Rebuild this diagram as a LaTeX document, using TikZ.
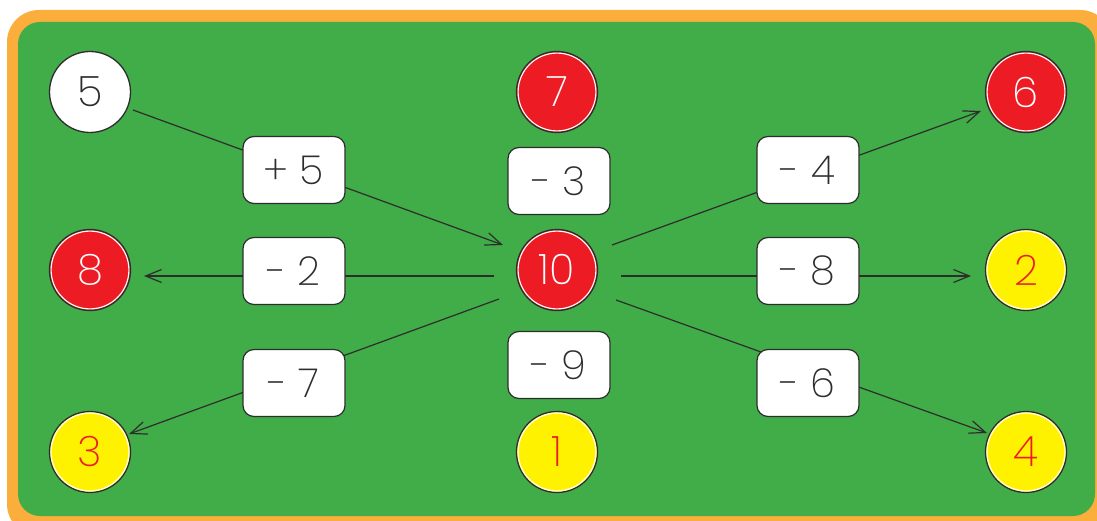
\documentclass[tikz,border=0pt]{standalone}
\usepackage{fontspec}
\setmainfont{Poppins ExtraLight}
\usetikzlibrary{arrows.meta}
\definecolor{bggreen}{RGB}{65,173,73}
\definecolor{frameor}{RGB}{251,174,60}
\definecolor{cred}{RGB}{237,28,36}
\definecolor{cyel}{RGB}{255,242,0}
\definecolor{dk}{RGB}{45,45,45}
\pgfdeclarelayer{bg}
\pgfdeclarelayer{lines}
\pgfsetlayers{bg,lines,main}
\tikzset{
  num/.style={circle, minimum size=81pt, inner sep=0pt, outer sep=0pt, draw=dk, line width=1.3pt,
    font=\fontsize{42}{42}\selectfont},
  wnum/.style={num, fill=white, text=dk},
  rnum/.style={num, fill=cred, text=white},
  ynum/.style={num, fill=cyel, text=cred},
  opbox/.style={rectangle, rounded corners=11pt, minimum width=102pt, minimum height=67pt, inner sep=0pt,
    draw=dk, line width=1.2pt, fill=white, text=dk, font=\fontsize{40}{40}\selectfont},
  conn/.style={draw=dk, line width=1.2pt},
  arr/.style={conn, -{Straight Barb[length=16pt,width=13pt,line width=1.2pt]}},
  ring/.style={draw=white, line width=1.1pt}
}
\begin{document}
\begin{tikzpicture}[x=1pt,y=-1pt]
\useasboundingbox (0,0) rectangle (1097,521);
\begin{pgfonlayer}{bg}
  \begin{scope}
    \clip (0,0) rectangle (1097,521);
    \fill[frameor, rounded corners=32pt] (7,10) rectangle (1112,536);
    \fill[bggreen, rounded corners=22pt] (18,22) rectangle (1095,516);
  \end{scope}
\end{pgfonlayer}
% circles
\node[wnum] (c5) at (90,92) {5};
\node[rnum] (c7) at (557,92) {7};
\node[rnum] (c6) at (1026,92) {6};
\node[rnum] (c8) at (90,270) {8};
\node[rnum] (c10) at (557,270) {10};
\node[ynum] (c2) at (1026,270) {2};
\node[ynum] (c3) at (90,452) {3};
\node[ynum] (c1) at (557,452) {1};
\node[ynum] (c4) at (1026,452) {4};
\foreach \c in {c7,c6,c8,c10,c2,c3,c1,c4} {
  \draw[ring] (\c.center) circle (38.9pt);
}
% operation boxes
\node[opbox] (bp5) at (294,170) {+ 5};
\node[opbox] (bm2) at (294,271) {- 2};
\node[opbox] (bm7) at (294,383) {- 7};
\node[opbox] (bm3) at (559,181) {- 3};
\node[opbox] (bm9) at (559,365) {- 9};
\node[opbox] (bm4) at (808,170) {- 4};
\node[opbox] (bm8) at (808,271) {- 8};
\node[opbox] (bm6) at (808,383) {- 6};
% connector ends
\coordinate (s1) at (133,110); \coordinate (e1) at (503,245);
\coordinate (s2) at (612,245); \coordinate (e2) at (981,111);
\coordinate (s3) at (494,276); \coordinate (e3) at (144,276);
\coordinate (s4) at (621,276); \coordinate (e4) at (971,276);
\coordinate (s5) at (499,299); \coordinate (e5) at (129,434);
\coordinate (s6) at (616,300); \coordinate (e6) at (987,433);
\begin{pgfonlayer}{lines}
  \draw[arr] (s1) -- (e1);
  \draw[arr] (s2) -- (e2);
  \draw[arr] (s3) -- (e3);
  \draw[arr] (s4) -- (e4);
  \draw[arr] (s5) -- (e5);
  \draw[arr] (s6) -- (e6);
\end{pgfonlayer}
\end{tikzpicture}
\end{document}
